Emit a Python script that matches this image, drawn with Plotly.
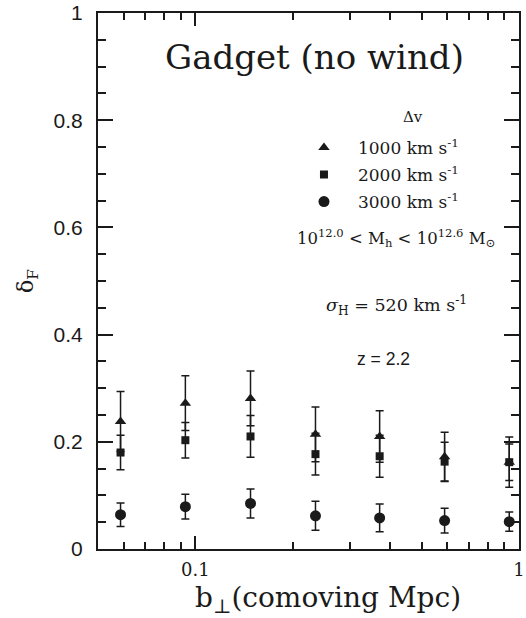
import plotly.graph_objects as go

# ---- data ----
b_perp = [0.0587, 0.0931, 0.148, 0.235, 0.371, 0.589, 0.933]
dF_1000 = [0.238, 0.272, 0.281, 0.214, 0.210, 0.172, 0.162]
err_1000 = [0.056, 0.051, 0.051, 0.051, 0.048, 0.046, 0.047]
dF_2000 = [0.180, 0.203, 0.210, 0.177, 0.173, 0.163, 0.162]
err_2000 = [0.032, 0.033, 0.039, 0.039, 0.039, 0.036, 0.034]
dF_3000 = [0.064, 0.079, 0.085, 0.062, 0.058, 0.053, 0.051]
err_3000 = [0.022, 0.023, 0.027, 0.027, 0.026, 0.023, 0.018]
series_names = ["1000 km s<sup>-1</sup>", "2000 km s<sup>-1</sup>", "3000 km s<sup>-1</sup>"]
x_major = [0.1, 1]
x_major_labels = ["0.1", "1"]
x_minor = [0.05, 0.06, 0.07, 0.08, 0.09, 0.2, 0.3, 0.4, 0.5, 0.6, 0.7, 0.8, 0.9]
y_major = [0, 0.2, 0.4, 0.6, 0.8, 1]
y_major_labels = ["0", "0.2", "0.4", "0.6", "0.8", "1"]

INK = "#1a1a1a"
SANS = "Liberation Sans"
SERIF = "DejaVu Serif"

fig = go.Figure()
specs = [
    (dF_1000, err_1000, "triangle-up", 10),
    (dF_2000, err_2000, "square", 8),
    (dF_3000, err_3000, "circle", 11),
]
for i, ((vals, errs, sym, sz), name) in enumerate(zip(specs, series_names)):
    fig.add_trace(go.Scatter(
        x=b_perp, y=vals, mode="markers", name=name, legendgroup=f"g{i}",
        marker=dict(symbol=sym, size=sz, color=INK, line=dict(width=0)),
        error_y=dict(type="data", array=errs, visible=True, color=INK,
                     thickness=1.5, width=4),
    ))

axis_common = dict(
    showline=True, linecolor=INK, linewidth=2, mirror="allticks",
    ticks="inside", tickcolor=INK, tickwidth=1.5, showgrid=False, zeroline=False,
    ticklabeloverflow="allow", automargin=False,
)
fig.update_xaxes(
    type="log", range=[-1.30103, 0],
    tickmode="array", tickvals=x_major, ticktext=x_major_labels, ticklen=13,
    minor=dict(tickmode="array", tickvals=x_minor, ticks="inside", ticklen=7,
               tickcolor=INK, tickwidth=1.5, showgrid=False),
    tickfont=dict(family=SERIF, size=18, color=INK), ticklabelstandoff=3,
    **axis_common,
)
fig.update_yaxes(
    range=[0, 1],
    tickmode="array", tickvals=y_major, ticktext=y_major_labels, ticklen=15,
    minor=dict(dtick=0.05, ticks="inside", ticklen=8, tickcolor=INK, tickwidth=1.5,
               showgrid=False),
    tickfont=dict(family=SANS, size=21, color=INK), ticklabelstandoff=9,
    title=dict(text="δ<sub>F</sub>", font=dict(family=SERIF, size=22, color=INK),
               standoff=14),
    **axis_common,
)

fig.update_layout(
    width=526, height=618,
    margin=dict(l=98, r=7, t=13, b=69, autoexpand=False),
    paper_bgcolor="white", plot_bgcolor="white",
    showlegend=True,
    legend=dict(
        x=0.456, y=0.782, xanchor="left", yanchor="top",
        bgcolor="rgba(0,0,0,0)",
        font=dict(family=SERIF, size=17, color=INK),
        itemwidth=58, tracegroupgap=2,
    ),
)

ann_font = dict(family=SERIF, size=16.5, color=INK)
fig.add_annotation(text="Gadget (no wind)", xref="paper", yref="paper",
                   x=0.514, y=0.918, xanchor="center", yanchor="middle", showarrow=False,
                   font=dict(family=SERIF, size=34, color=INK))
fig.add_annotation(text="b<sub>⊥</sub>(comoving Mpc)", xref="paper", yref="paper",
                   x=0.546, y=-0.095, xanchor="center", yanchor="middle", showarrow=False,
                   font=dict(family=SERIF, size=28, color=INK))
fig.add_annotation(text="Δv", xref="paper", yref="paper", x=0.748, y=0.806,
                   xanchor="center", yanchor="middle", showarrow=False,
                   font=dict(family=SERIF, size=15, color=INK))
fig.add_annotation(text="10<sup>12.0</sup> < M<sub>h</sub> < 10<sup>12.6</sup> M<sub>⊙</sub>",
                   xref="paper", yref="paper", x=0.708, y=0.580,
                   xanchor="center", yanchor="middle", showarrow=False, font=ann_font)
fig.add_annotation(text="<i>σ</i><sub>H</sub> = 520 km s<sup>-1</sup>",
                   xref="paper", yref="paper", x=0.710, y=0.455,
                   xanchor="center", yanchor="middle", showarrow=False,
                   font=dict(family=SERIF, size=17.5, color=INK))
fig.add_annotation(text="z = 2.2", xref="paper", yref="paper", x=0.677, y=0.354,
                   xanchor="center", yanchor="middle", showarrow=False,
                   font=dict(family=SANS, size=17.5, color=INK))

# remove the browser's default 8px page margin so the figure fills the window
fig.write_html("out.html", config={"displayModeBar": False},
               post_script="document.body.style.margin='0';")
